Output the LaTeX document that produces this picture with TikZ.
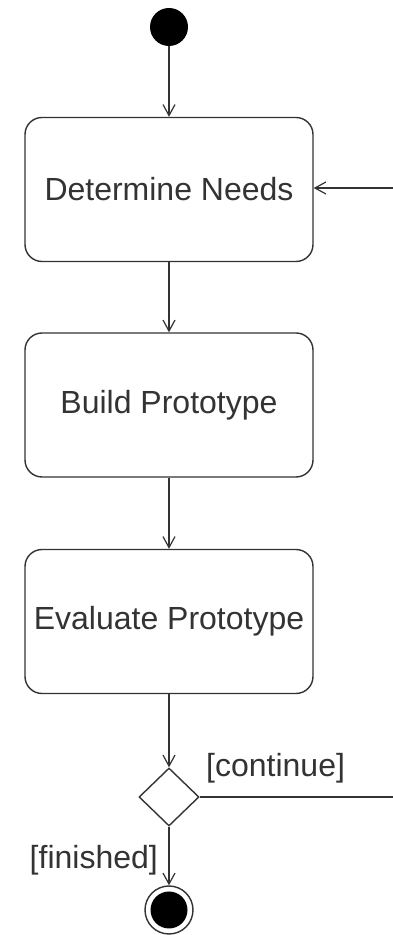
\documentclass[tikz,border=0pt]{standalone}
\usepackage{fontspec}
\setmainfont{Liberation Sans}
\usetikzlibrary{arrows.meta,shapes.geometric}
\definecolor{ln}{HTML}{333333}
\begin{document}
\begin{tikzpicture}[x=1pt,y=1pt,
  every node/.style={text=ln},
  act/.style={draw=ln,line width=1.4pt,rounded corners=17pt,minimum width=288pt,minimum height=144pt,inner sep=0pt,font=\fontsize{32}{38}\selectfont},
  flow/.style={draw=ln,line width=1.4pt,-{Straight Barb[length=11pt,width=12pt,line width=1.2pt]}},
  lbl/.style={font=\fontsize{32}{38}\selectfont,inner sep=0pt}]
\useasboundingbox (0,0) rectangle (393,935);
\fill[white] (0,0) rectangle (393,935);
\node[circle,fill=black,minimum size=38pt,inner sep=0pt] (start) at (169,908) {};
\node[act] (a1) at (169,745.5) {Determine Needs};
\node[act] (a2) at (169,530) {Build Prototype};
\node[act] (a3) at (169,313.5) {Evaluate Prototype};
\node[diamond,draw=ln,line width=1.4pt,minimum width=60pt,minimum height=58pt,inner sep=0pt,fill=white] (dec) at (169,138) {};
\node[circle,draw=ln,line width=1.4pt,minimum size=48pt,inner sep=0pt] (end) at (169,25) {};
\node[circle,fill=black,minimum size=37pt,inner sep=0pt] (endin) at (169,25) {};
\coordinate (r1) at (393,747);
\coordinate (r2) at (393,138);
\draw[flow] (start) -- (a1);
\draw[flow] (a1) -- (a2);
\draw[flow] (a2) -- (a3);
\draw[flow] (a3) -- (dec);
\draw[flow] (dec) -- (end);
\draw[draw=ln,line width=1.4pt] (dec.east) -- (r2);
\draw[flow] (r1) -- (a1.east |- r1);
\node[lbl,anchor=west] (lc) at (206,167) {[continue]};
\node[lbl,anchor=east] (lf) at (158,75) {[finished]};
\end{tikzpicture}
\end{document}
